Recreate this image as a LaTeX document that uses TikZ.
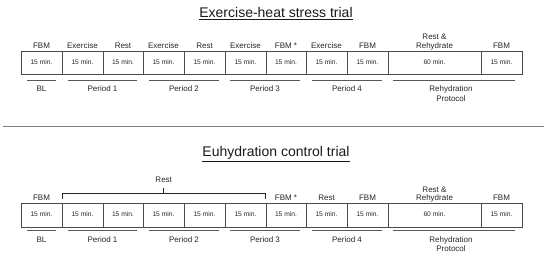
\documentclass[tikz,border=0pt]{standalone}
\usepackage{fontspec}
\setmainfont{Liberation Sans}
\begin{document}
\begin{tikzpicture}[x=1pt,y=-1pt,
  boxc/.style={draw=black!70, line width=0.8pt, inner sep=0pt},
  lbl/.style={anchor=base, inner sep=0pt, text=black!85, font=\fontsize{8}{9.5}\selectfont},
  cell/.style={anchor=base, inner sep=0pt, text=black!85, font=\fontsize{6.7}{8}\selectfont},
  ttl/.style={anchor=base, inner sep=0pt, text=black!90, font=\fontsize{14}{16}\selectfont},
  uline/.style={draw=black!65, line width=0.8pt},
  sep/.style={draw=black!50, line width=1.4pt},
  brk/.style={draw=black!85, line width=0.9pt}]
\useasboundingbox (0,0) rectangle (550,256);

% ---------- Top trial ----------
\node[ttl] (t1) at (276,17.5) {\underline{Exercise-heat stress trial}};

\foreach \n/\a/\b in {a1/21/62,a2/62/103,a3/103/143,a4/143/184,a5/184/225,a6/225/266,a7/266/306,a8/306/347,a9/347/388,a10/388/481,a11/481/522}{
  \draw[boxc] (\a,51) rectangle (\b,74);
  \coordinate (\n) at ({(\a+\b)/2},0);
}
\node[cell] (ca1) at (a1 |- 0,64.3) {15 min.};
\node[cell] (ca2) at (a2 |- 0,64.3) {15 min.};
\node[cell] (ca3) at (a3 |- 0,64.3) {15 min.};
\node[cell] (ca4) at (a4 |- 0,64.3) {15 min.};
\node[cell] (ca5) at (a5 |- 0,64.3) {15 min.};
\node[cell] (ca6) at (a6 |- 0,64.3) {15 min.};
\node[cell] (ca7) at (a7 |- 0,64.3) {15 min.};
\node[cell] (ca8) at (a8 |- 0,64.3) {15 min.};
\node[cell] (ca9) at (a9 |- 0,64.3) {15 min.};
\node[cell] (ca10) at (a10 |- 0,64.3) {60 min.};
\node[cell] (ca11) at (a11 |- 0,64.3) {15 min.};

\node[lbl] (la1) at (a1 |- 0,48.3) {FBM};
\node[lbl] (la2) at (a2 |- 0,48.3) {Exercise};
\node[lbl] (la3) at (a3 |- 0,48.3) {Rest};
\node[lbl] (la4) at (a4 |- 0,48.3) {Exercise};
\node[lbl] (la5) at (a5 |- 0,48.3) {Rest};
\node[lbl] (la6) at (a6 |- 0,48.3) {Exercise};
\node[lbl] (la7) at (a7 |- 0,48.3) {FBM *};
\node[lbl] (la8) at (a8 |- 0,48.3) {Exercise};
\node[lbl] (la9) at (a9 |- 0,48.3) {FBM};
\node[lbl] (la10) at (a10 |- 0,48.3) {Rehydrate};
\node[lbl] (la10b) at (a10 |- 0,39.5) {Rest \&};
\node[lbl] (la11) at (a11 |- 0,48.3) {FBM};

\draw[uline] (27,80) coordinate (pa0s) -- (56,80) coordinate (pa0e);
\draw[uline] (68,80) coordinate (pa1s) -- (137,80) coordinate (pa1e);
\draw[uline] (149,80) coordinate (pa2s) -- (219,80) coordinate (pa2e);
\draw[uline] (230,80) coordinate (pa3s) -- (300,80) coordinate (pa3e);
\draw[uline] (312,80) coordinate (pa4s) -- (382,80) coordinate (pa4e);
\draw[uline] (393,80) coordinate (pa5s) -- (515,80) coordinate (pa5e);
\node[lbl] (pl0) at (41.5,91.7) {BL};
\node[lbl] (pl1) at (102.5,91.7) {Period 1};
\node[lbl] (pl2) at (184,91.7) {Period 2};
\node[lbl] (pl3) at (265,91.7) {Period 3};
\node[lbl] (pl4) at (347,91.7) {Period 4};
\node[lbl] (pl5) at (451,91.7) {Rehydration};
\node[lbl] (pl5b) at (451,101.7) {Protocol};

% separator
\draw[sep] (3,126.5) coordinate (s1) -- (544,126.5) coordinate (s2);

% ---------- Bottom trial ----------
\node[ttl] (t2) at (276,156.5) {\underline{Euhydration control trial}};

\foreach \n/\a/\b in {b1/21/62,b2/62/103,b3/103/143,b4/143/184,b5/184/225,b6/225/266,b7/266/306,b8/306/347,b9/347/388,b10/388/481,b11/481/522}{
  \draw[boxc] (\a,203) rectangle (\b,227);
  \coordinate (\n) at ({(\a+\b)/2},0);
}
\node[cell] (cb1) at (b1 |- 0,216.5) {15 min.};
\node[cell] (cb2) at (b2 |- 0,216.5) {15 min.};
\node[cell] (cb3) at (b3 |- 0,216.5) {15 min.};
\node[cell] (cb4) at (b4 |- 0,216.5) {15 min.};
\node[cell] (cb5) at (b5 |- 0,216.5) {15 min.};
\node[cell] (cb6) at (b6 |- 0,216.5) {15 min.};
\node[cell] (cb7) at (b7 |- 0,216.5) {15 min.};
\node[cell] (cb8) at (b8 |- 0,216.5) {15 min.};
\node[cell] (cb9) at (b9 |- 0,216.5) {15 min.};
\node[cell] (cb10) at (b10 |- 0,216.5) {60 min.};
\node[cell] (cb11) at (b11 |- 0,216.5) {15 min.};

\node[lbl] (lb1) at (b1 |- 0,200.7) {FBM};
\node[lbl] (lb7) at (b7 |- 0,200.7) {FBM *};
\node[lbl] (lb8) at (b8 |- 0,200.7) {Rest};
\node[lbl] (lb9) at (b9 |- 0,200.7) {FBM};
\node[lbl] (lb10) at (b10 |- 0,200.7) {Rehydrate};
\node[lbl] (lb10b) at (b10 |- 0,192.5) {Rest \&};
\node[lbl] (lb11) at (b11 |- 0,200.7) {FBM};

% bracket
\coordinate (br1) at (62,199);
\coordinate (br2) at (265.5,199);
\draw[brk] (br1) -- (62,193.3) -- (265.5,193.3) -- (br2);
\draw[brk] (163.7,193.3) -- (163.7,188) coordinate (brm);
\node[lbl] (rest) at (163.7,183) {Rest};

\draw[uline] (27,230.7) coordinate (pb0s) -- (56,230.7) coordinate (pb0e);
\draw[uline] (68,230.7) coordinate (pb1s) -- (137,230.7) coordinate (pb1e);
\draw[uline] (149,230.7) coordinate (pb2s) -- (219,230.7) coordinate (pb2e);
\draw[uline] (230,230.7) coordinate (pb3s) -- (300,230.7) coordinate (pb3e);
\draw[uline] (312,230.7) coordinate (pb4s) -- (382,230.7) coordinate (pb4e);
\draw[uline] (393,230.7) coordinate (pb5s) -- (515,230.7) coordinate (pb5e);
\node[lbl] (ql0) at (41.5,242.3) {BL};
\node[lbl] (ql1) at (102.5,242.3) {Period 1};
\node[lbl] (ql2) at (184,242.3) {Period 2};
\node[lbl] (ql3) at (265,242.3) {Period 3};
\node[lbl] (ql4) at (347,242.3) {Period 4};
\node[lbl] (ql5) at (451,242.3) {Rehydration};
\node[lbl] (ql5b) at (451,251.5) {Protocol};
\end{tikzpicture}
\end{document}
